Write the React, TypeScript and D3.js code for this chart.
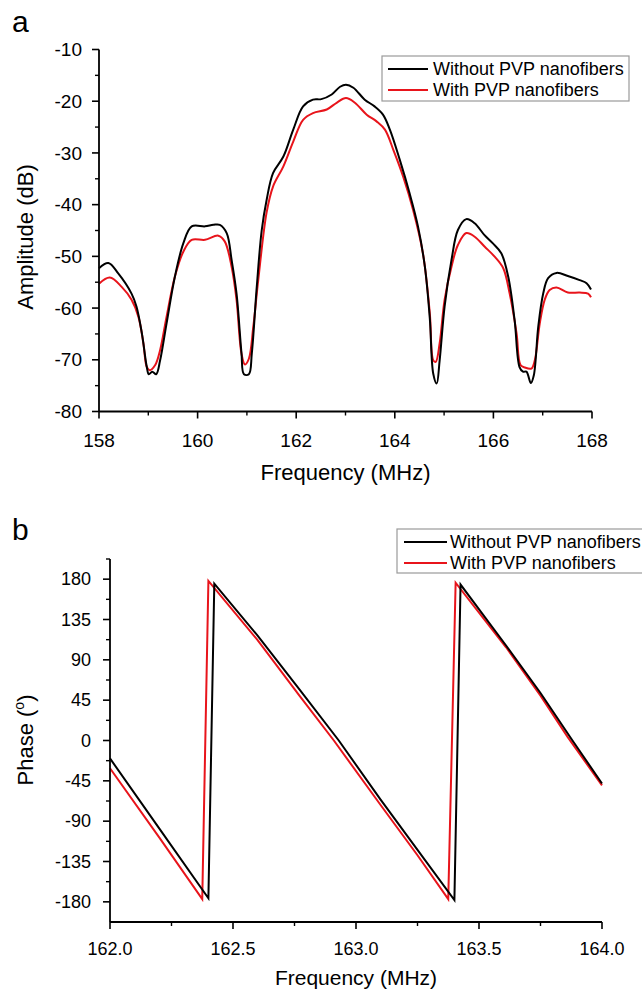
import React from "react";
import * as d3 from "d3";

// ---------- Panel a data: amplitude vs frequency ----------
const ampFreqWithout = [158.0, 158.19, 158.39, 158.66, 158.76, 158.87, 158.97, 159.01, 159.08, 159.16, 159.24, 159.37, 159.54, 159.71, 159.88, 160.15, 160.32, 160.45, 160.59, 160.69, 160.79, 160.89, 160.94, 161.04, 161.1, 161.2, 161.3, 161.4, 161.53, 161.74, 161.94, 162.14, 162.34, 162.51, 162.72, 162.89, 163.01, 163.16, 163.39, 163.59, 163.76, 163.9, 164.1, 164.3, 164.47, 164.61, 164.71, 164.78, 164.85, 164.91, 165.01, 165.15, 165.28, 165.45, 165.62, 165.82, 165.99, 166.16, 166.3, 166.43, 166.53, 166.6, 166.67, 166.76, 166.82, 166.91, 167.01, 167.11, 167.28, 167.51, 167.75, 167.89, 167.98];
const ampWithout = [-52.3, -51.3, -53.3, -57.2, -59.7, -64.9, -71.4, -72.8, -72.3, -72.8, -70.1, -63.0, -53.9, -47.5, -44.2, -44.2, -43.9, -43.9, -45.5, -50.7, -57.2, -68.7, -72.8, -72.8, -68.7, -55.9, -45.0, -39.1, -33.9, -30.7, -25.5, -21.0, -19.7, -19.6, -18.7, -17.2, -16.8, -17.4, -19.7, -21.0, -22.6, -25.5, -31.3, -37.8, -44.2, -52.0, -62.0, -72.7, -74.6, -70.1, -59.7, -50.7, -44.9, -42.8, -43.6, -45.9, -47.5, -49.4, -53.9, -62.3, -71.4, -72.3, -72.3, -74.5, -73.0, -63.6, -57.2, -54.2, -53.2, -53.8, -54.6, -55.2, -56.4];

const ampFreqWith = [158.0, 158.22, 158.46, 158.66, 158.8, 158.9, 158.97, 159.03, 159.14, 159.24, 159.37, 159.54, 159.71, 159.88, 160.15, 160.42, 160.55, 160.69, 160.79, 160.89, 160.96, 161.04, 161.13, 161.23, 161.4, 161.53, 161.74, 161.94, 162.14, 162.34, 162.62, 162.82, 163.01, 163.19, 163.43, 163.63, 163.8, 163.97, 164.17, 164.37, 164.57, 164.71, 164.78, 164.83, 164.91, 165.01, 165.15, 165.28, 165.45, 165.62, 165.82, 166.03, 166.2, 166.33, 166.47, 166.55, 166.64, 166.77, 166.84, 166.94, 167.04, 167.14, 167.28, 167.51, 167.75, 167.92, 167.98];
const ampWith = [-55.3, -54.1, -55.9, -58.4, -61.7, -66.8, -71.4, -72.0, -71.0, -68.1, -61.7, -53.9, -49.1, -46.8, -46.8, -46.0, -47.1, -52.0, -58.4, -68.8, -70.9, -69.8, -63.6, -54.6, -41.5, -36.5, -32.6, -27.8, -23.6, -22.3, -21.6, -20.3, -19.4, -20.3, -22.6, -23.9, -25.5, -29.4, -34.6, -41.0, -49.4, -61.0, -70.1, -70.4, -66.8, -58.4, -52.0, -47.8, -45.5, -46.2, -48.1, -50.1, -52.3, -57.2, -64.9, -71.0, -71.5, -71.7, -70.1, -63.0, -58.4, -56.5, -56.0, -57.0, -57.0, -57.2, -57.9];

const ampYTicks = [-80, -70, -60, -50, -40, -30, -20, -10];
const ampXTicks = [158, 160, 162, 164, 166, 168];

// ---------- Panel b data: phase vs frequency ----------
const phFreqWithout = [162.0, 162.2, 162.4, 162.424, 162.6, 162.77, 162.93, 163.1, 163.25, 163.4, 163.425, 163.61, 163.75, 163.88, 164.0];
const phWithout = [-20, -98, -176, 175, 117, 57, 0, -66, -122, -178, 174, 106, 53, 0, -48];
const phFreqWith = [162.0, 162.2, 162.375, 162.4, 162.6, 162.77, 162.91, 163.1, 163.25, 163.375, 163.405, 163.61, 163.75, 163.86, 164.0];
const phWith = [-31, -108, -177, 178, 112, 50, 0, -72, -128, -177, 176, 104, 50, 4, -50];

const phYTicks = [-180, -135, -90, -45, 0, 45, 90, 135, 180];
const phXTicks = [162.0, 162.5, 163.0, 163.5, 164.0];

const legendLabels = ["Without PVP nanofibers", "With PVP nanofibers"];
const seriesColors = ["#000000", "#e8141b"];

const FONT = "'Liberation Sans', Arial, Helvetica, sans-serif";

function zip(xs: number[], ys: number[]): [number, number][] {
  return xs.map((x, i) => [x, ys[i]]);
}

export default function App() {
  // Panel a scales
  const ax = d3.scaleLinear().domain([158, 168]).range([99, 592]);
  const ay = d3.scaleLinear().domain([-80, -10]).range([411.5, 49.5]);
  const aLine = d3
    .line<[number, number]>()
    .x((d) => ax(d[0]))
    .y((d) => ay(d[1]))
    .curve(d3.curveCatmullRom.alpha(0.5));

  // Panel b scales
  const bx = d3.scaleLinear().domain([162, 164]).range([110, 602]);
  const by = d3.scaleLinear().domain([-202.5, 202.5]).range([922, 559]);
  const bLine = d3
    .line<[number, number]>()
    .x((d) => bx(d[0]))
    .y((d) => by(d[1]));

  const aMinorY = d3.range(-75, -10, 10);
  const aMinorX = d3.range(159, 168, 2);
  const bMinorY = [-157.5, -112.5, -67.5, -22.5, 22.5, 67.5, 112.5, 157.5, 202.5];
  const bMinorX = [162.25, 162.75, 163.25, 163.75];

  const axisStroke = 1.8;

  return (
    <svg
      width={642}
      height={992}
      style={{ position: "absolute", left: 0, top: 0, background: "#fff" }}
      fontFamily={FONT}
    >
      <rect x={0} y={0} width={642} height={992} fill="#fff" />

      {/* ================= Panel a ================= */}
      <text x={12} y={32} fontSize={30} fill="#000">a</text>

      <path d={aLine(zip(ampFreqWith, ampWith)) || ""} fill="none" stroke={seriesColors[1]} strokeWidth={2} />
      <path d={aLine(zip(ampFreqWithout, ampWithout)) || ""} fill="none" stroke={seriesColors[0]} strokeWidth={2} />

      <line x1={ax(158)} x2={ax(158)} y1={ay(-10)} y2={ay(-80)} stroke="#000" strokeWidth={axisStroke} />
      <line x1={ax(158)} x2={ax(168)} y1={ay(-80)} y2={ay(-80)} stroke="#000" strokeWidth={axisStroke} />
      {ampYTicks.map((t) => (
        <g key={"ay" + t}>
          <line x1={ax(158) - 7} x2={ax(158)} y1={ay(t)} y2={ay(t)} stroke="#000" strokeWidth={1.6} />
          <text x={82} y={ay(t)} dy="0.35em" fontSize={19} textAnchor="end" fill="#000">{t}</text>
        </g>
      ))}
      {aMinorY.map((t) => (
        <line key={"amy" + t} x1={ax(158) - 4} x2={ax(158)} y1={ay(t)} y2={ay(t)} stroke="#000" strokeWidth={1.4} />
      ))}
      {ampXTicks.map((t) => (
        <g key={"ax" + t}>
          <line x1={ax(t)} x2={ax(t)} y1={ay(-80)} y2={ay(-80) + 7} stroke="#000" strokeWidth={1.6} />
          <text x={ax(t)} y={447} fontSize={19} textAnchor="middle" fill="#000">{t}</text>
        </g>
      ))}
      {aMinorX.map((t) => (
        <line key={"amx" + t} x1={ax(t)} x2={ax(t)} y1={ay(-80)} y2={ay(-80) + 4} stroke="#000" strokeWidth={1.4} />
      ))}
      <text x={(ax(158) + ax(168)) / 2} y={480} fontSize={22} textAnchor="middle" fill="#000">Frequency (MHz)</text>
      <text transform="translate(33,237) rotate(-90)" fontSize={22} textAnchor="middle" fill="#000">Amplitude (dB)</text>

      <rect x={382} y={56} width={247} height={45} fill="#fff" stroke="#9a9a9a" strokeWidth={1.2} />
      {legendLabels.map((lab, i) => (
        <g key={"la" + i}>
          <line x1={388} x2={428} y1={69 + i * 21} y2={69 + i * 21} stroke={seriesColors[i]} strokeWidth={2} />
          <text x={433} y={69 + i * 21} dy="0.36em" fontSize={18} fill="#000">{lab}</text>
        </g>
      ))}

      {/* ================= Panel b ================= */}
      <text x={12} y={540} fontSize={30} fill="#000">b</text>

      <path d={bLine(zip(phFreqWith, phWith)) || ""} fill="none" stroke={seriesColors[1]} strokeWidth={2} strokeLinejoin="miter" />
      <path d={bLine(zip(phFreqWithout, phWithout)) || ""} fill="none" stroke={seriesColors[0]} strokeWidth={2} strokeLinejoin="miter" />

      <line x1={bx(162)} x2={bx(162)} y1={by(202.5)} y2={by(-202.5)} stroke="#000" strokeWidth={axisStroke} />
      <line x1={bx(162)} x2={bx(164)} y1={by(-202.5)} y2={by(-202.5)} stroke="#000" strokeWidth={axisStroke} />
      {phYTicks.map((t) => (
        <g key={"by" + t}>
          <line x1={bx(162) - 7} x2={bx(162)} y1={by(t)} y2={by(t)} stroke="#000" strokeWidth={1.6} />
          <text x={91} y={by(t)} dy="0.35em" fontSize={18} textAnchor="end" fill="#000">{t}</text>
        </g>
      ))}
      {bMinorY.map((t) => (
        <line key={"bmy" + t} x1={bx(162) - 4} x2={bx(162)} y1={by(t)} y2={by(t)} stroke="#000" strokeWidth={1.4} />
      ))}
      {phXTicks.map((t) => (
        <g key={"bx" + t}>
          <line x1={bx(t)} x2={bx(t)} y1={by(-202.5)} y2={by(-202.5) + 7} stroke="#000" strokeWidth={1.6} />
          <text x={bx(t)} y={955} fontSize={18} textAnchor="middle" fill="#000">{d3.format(".1f")(t)}</text>
        </g>
      ))}
      {bMinorX.map((t) => (
        <line key={"bmx" + t} x1={bx(t)} x2={bx(t)} y1={by(-202.5)} y2={by(-202.5) + 4} stroke="#000" strokeWidth={1.4} />
      ))}
      <text x={(bx(162) + bx(164)) / 2} y={985} fontSize={21} textAnchor="middle" fill="#000">Frequency (MHz)</text>
      <text transform="translate(33,740) rotate(-90)" fontSize={22} textAnchor="middle" fill="#000">
        Phase (<tspan fontSize={14} dy={-9}>o</tspan><tspan dy={9}>)</tspan>
      </text>

      <rect x={397} y={529} width={250} height={44} fill="#fff" stroke="#9a9a9a" strokeWidth={1.2} />
      {legendLabels.map((lab, i) => (
        <g key={"lb" + i}>
          <line x1={404} x2={447} y1={542 + i * 21} y2={542 + i * 21} stroke={seriesColors[i]} strokeWidth={2} />
          <text x={450} y={542 + i * 21} dy="0.36em" fontSize={18} fill="#000">{lab}</text>
        </g>
      ))}
    </svg>
  );
}
